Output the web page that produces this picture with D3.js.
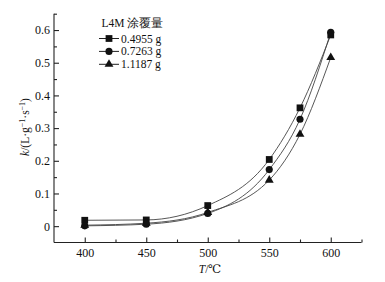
<!DOCTYPE html>
<html><head><meta charset="utf-8">
<script src="https://cdn.jsdelivr.net/npm/d3@7"></script>
<style>body{margin:0;background:#fff}svg{display:block}text{font-family:"Liberation Serif","DejaVu Serif",serif;fill:#111}</style>
</head><body><div id="c"></div>
<script>
const temps = [400, 450, 500, 550, 575, 600];
const seriesNames = ["0.4955 g", "0.7263 g", "1.1187 g"];
const kSquare = [0.018, 0.019, 0.063, 0.204, 0.362, 0.585];
const kCircle = [0.001, 0.006, 0.039, 0.173, 0.327, 0.593];
const kTriangle = [0.003, 0.009, 0.042, 0.141, 0.281, 0.516];
const xTicks = [400, 450, 500, 550, 600];
const xMinor = [425, 475, 525, 575, 625];
const yTicks = [0, 0.1, 0.2, 0.3, 0.4, 0.5, 0.6];
const yMinor = [0.05, 0.15, 0.25, 0.35, 0.45, 0.55, 0.65];
const legendTitle = "L4M 涂覆量";

const W = 385, H = 282;
const svg = d3.select("#c").append("svg").attr("width", W).attr("height", H);
svg.append("rect").attr("width", W).attr("height", H).attr("fill", "#fff");
const x = d3.scaleLinear().domain([375, 625]).range([54, 361.5]);
const y = d3.scaleLinear().domain([-0.05, 0.65]).range([242.5, 13.7]);

const g = svg.append("g");
// axes
const xAxis = d3.axisBottom(x).tickValues(xTicks).tickSize(-5).tickPadding(6).tickFormat(d3.format("d"));
const xa = g.append("g").attr("transform", `translate(0,${y(-0.05)})`).call(xAxis);
xa.select(".domain").attr("d", `M${x(375)},0H${x(625)}`);
const xm = g.append("g").attr("transform", `translate(0,${y(-0.05)})`).call(d3.axisBottom(x).tickValues(xMinor).tickSize(-3).tickFormat(""));
xm.select(".domain").remove();
const yAxis = d3.axisLeft(y).tickValues(yTicks).tickSize(-5).tickPadding(4).tickFormat(d => d === 0 ? "0" : d3.format(".1f")(d));
const ya = g.append("g").attr("transform", `translate(${x(375)},0)`).call(yAxis);
ya.select(".domain").attr("d", `M0,${y(-0.05)}V${y(0.65)}`);
const ym = g.append("g").attr("transform", `translate(${x(375)},0)`).call(d3.axisLeft(y).tickValues(yMinor).tickSize(-3).tickFormat(""));
ym.select(".domain").remove();
svg.selectAll(".tick line, .domain").attr("stroke", "#222").attr("stroke-width", 1.1);
svg.selectAll(".tick text").attr("font-size", 12).attr("font-family", "Liberation Serif").attr("fill", "#222");

// curves
const series = [
  {vals: kSquare, sym: d3.symbolSquare, size: 46},
  {vals: kCircle, sym: d3.symbolCircle, size: 40},
  {vals: kTriangle, sym: d3.symbolTriangle, size: 34}
];
const line = d3.line().x((d, i) => x(temps[i])).y(d => y(d)).curve(d3.curveMonotoneX);
series.forEach(s => {
  g.append("path").attr("d", line(s.vals)).attr("fill", "none").attr("stroke", "#444").attr("stroke-width", 0.9);
});
series.forEach(s => {
  g.selectAll(null).data(s.vals).enter().append("path")
    .attr("d", d3.symbol().type(s.sym).size(s.size))
    .attr("transform", (d, i) => `translate(${x(temps[i])},${y(d)})`)
    .attr("fill", "#111");
});

// legend
svg.append("text").attr("x", 101.5).attr("y", 27).attr("font-size", 11.5).text(legendTitle);
series.forEach((s, i) => {
  const cy = 38.5 + i * 12.9;
  svg.append("line").attr("x1", 99).attr("x2", 119).attr("y1", cy).attr("y2", cy).attr("stroke", "#222").attr("stroke-width", 1);
  svg.append("path").attr("d", d3.symbol().type(s.sym).size(s.size)).attr("transform", `translate(109,${cy})`).attr("fill", "#111");
  svg.append("text").attr("x", 121).attr("y", cy + 4).attr("font-size", 11.5).text(seriesNames[i]);
});

// axis titles
const xt = svg.append("text").attr("x", 210).attr("y", 273).attr("text-anchor", "middle").attr("font-size", 11.5);
xt.append("tspan").attr("font-style", "italic").text("T");
xt.append("tspan").text("/℃");
const yt = svg.append("text").attr("transform", "translate(29,127) rotate(-90)").attr("text-anchor", "middle").attr("font-size", 11.5);
yt.append("tspan").attr("font-style", "italic").text("k");
yt.append("tspan").text("/(L·g");
yt.append("tspan").attr("font-size", 8).attr("dy", -4).text("−1");
yt.append("tspan").attr("dy", 4).text("·s");
yt.append("tspan").attr("font-size", 8).attr("dy", -4).text("−1");
yt.append("tspan").attr("dy", 4).text(")");
</script></body></html>
